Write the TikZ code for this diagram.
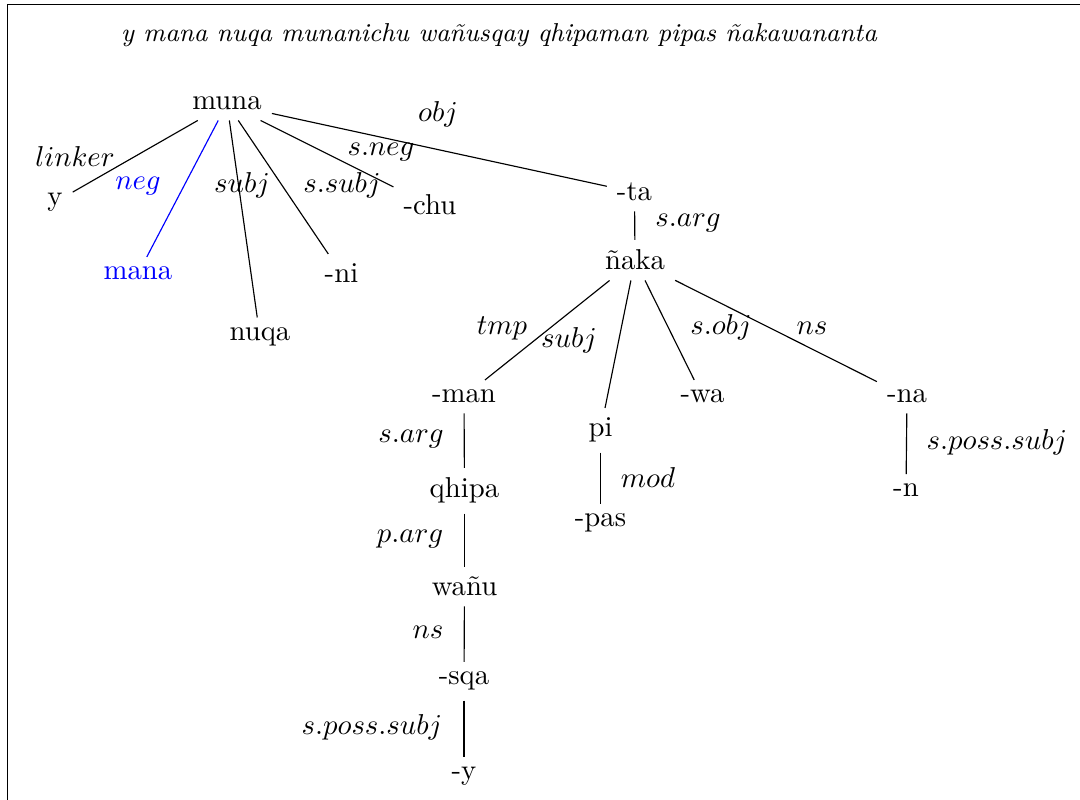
\documentclass[tikz,border=0pt]{standalone}
\begin{document}
\begin{tikzpicture}[x=0.34778pt,y=-0.34778pt,
  word/.style={anchor=base},
  lbl/.style={anchor=base},
  dep/.style={draw=black, line width=0.4pt},
  negc/.style={blue}]
\useasboundingbox (0,0) rectangle (1080,800);
\begin{scope}
  \clip (0,0) rectangle (1080,800);
  \draw[line width=0.5pt] (7.5,4.5) rectangle (1200,900);
\end{scope}
\node[word] (title) at (499,42) {\small\itshape y mana nuqa munanichu wañusqay qhipaman pipas ñakawananta};
% words
\node[word] (muna) at (227,110) {muna};
\node[word] (y) at (55,205.5) {y};
\node[word,negc] (mana) at (138,280) {mana};
\node[word] (nuqa) at (260,340.5) {nuqa};
\node[word] (ni) at (341.5,283) {-ni};
\node[word] (chu) at (430,215) {-chu};
\node[word] (ta) at (634.5,201) {-ta};
\node[word] (naka) at (635,270) {ñaka};
\node[word] (man) at (464,403) {-man};
\node[word] (pi) at (600.5,437) {pi};
\node[word] (wa) at (702.5,403) {-wa};
\node[word] (na) at (907,403) {-na};
\node[word] (n) at (906,497) {-n};
\node[word] (pas) at (600.5,527) {-pas};
\node[word] (qhipa) at (464.5,498) {qhipa};
\node[word] (wanu) at (464.5,596) {wañu};
\node[word] (sqa) at (464,685) {-sqa};
\node[word] (yy) at (464,780) {-y};
% connectors
\draw[dep] (muna) -- (y);
\draw[dep,blue] (muna) -- (mana);
\draw[dep] (muna) -- (nuqa);
\draw[dep] (muna) -- (ni);
\draw[dep] (muna) -- (chu);
\draw[dep] (muna) -- (ta);
\draw[dep] (ta) -- (naka);
\draw[dep] (naka) -- (man);
\draw[dep] (naka) -- (pi);
\draw[dep] (naka) -- (wa);
\draw[dep] (naka) -- (na);
\draw[dep] (na) -- (n);
\draw[dep] (pi) -- (pas);
\draw[dep] (man) -- (qhipa);
\draw[dep] (qhipa) -- (wanu);
\draw[dep] (wanu) -- (sqa);
\draw[dep] (sqa) -- (yy);
% labels
\node[lbl] (llinker) at (75,167) {$linker$};
\node[lbl,negc] (lneg) at (138,190) {$neg$};
\node[lbl] (lsubj) at (242,193) {$subj$};
\node[lbl] (lssubj) at (342,193) {$s.subj$};
\node[lbl] (lsneg) at (381,156) {$s.neg$};
\node[lbl] (lobj) at (438,122) {$obj$};
\node[lbl] (lsarg) at (688,227) {$s.arg$};
\node[lbl] (ltmp) at (502,335) {$tmp$};
\node[lbl] (lsubjb) at (569,348) {$subj$};
\node[lbl] (lsobj) at (721,335) {$s.obj$};
\node[lbl] (lns) at (812,335) {$ns$};
\node[lbl] (lsargb) at (411,443) {$s.arg$};
\node[lbl] (lparg) at (410,543) {$p.arg$};
\node[lbl] (lnsb) at (428,639) {$ns$};
\node[lbl] (lspsa) at (372,735) {$s.poss.subj$};
\node[lbl] (lmod) at (648,488) {$mod$};
\node[lbl] (lspsb) at (997,450) {$s.poss.subj$};
\end{tikzpicture}
\end{document}
